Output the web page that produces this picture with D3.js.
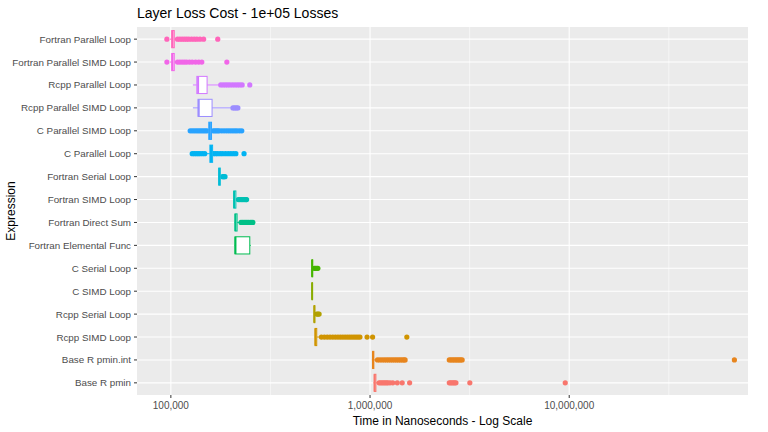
<!DOCTYPE html>
<html lang="en">
<head>
<meta charset="UTF-8">
<title>Layer Loss Cost</title>
<script src="https://cdn.jsdelivr.net/npm/d3@7"></script>
<style>
  body { margin:0; background:#fff; }
  text { font-family: "Liberation Sans", Arial, sans-serif; }
</style>
</head>
<body>
<div id="chart"></div>
<script>
    // top to bottom, as drawn
    const categories = ['Fortran Parallel Loop','Fortran Parallel SIMD Loop','Rcpp Parallel Loop','Rcpp Parallel SIMD Loop',
        'C Parallel SIMD Loop','C Parallel Loop','Fortran Serial Loop','Fortran SIMD Loop','Fortran Direct Sum',
        'Fortran Elemental Func','C Serial Loop','C SIMD Loop','Rcpp Serial Loop','Rcpp SIMD Loop','Base R pmin.int','Base R pmin'];
    const colours = ['#FF65BA','#F166E8','#D277FF','#9C8DFF','#29A3FF','#00B3F2','#00BCD6','#00C0B2','#00C087',
        '#00BC51','#45B500','#89AC00','#B2A100','#D09400','#E7851E','#F8766D'];
    // values in nanoseconds
    const q1        = [101000,101000,135000,137000,155000,157000,174000,207000,210000,210000,511000,511000,524000,530000,1030000,1050000];
    const median    = [102000,102000,137000,138000,157000,159000,175000,208000,211000,211000,512000,512000,525000,532000,1035000,1055000];
    const q3        = [104000,104000,152000,161000,160000,162000,177000,212000,215000,249000,515000,513000,528000,540000,1045000,1070000];
    const whiskerLo = [ 99000, 99000,129000,129000,150000,150000,173000,206000,209000,209000,510000,510000,522000,528000,1020000,1040000];
    const whiskerHi = [106000,106000,176000,210000,172000,170000,180000,215000,222000,252000,520000,514000,532000,560000,1070000,1100000];
    const outliers = [
        [95500,108000,111000,114000,117000,120000,123000,127000,131000,135000,140000,146000,172000],
        [95500,108000,111000,114000,117000,120000,124000,128000,133000,138000,143000,191000],
        [178000,183000,188000,193000,198000,204000,210000,216000,222000,228000,249000],
        [205000,209000,213000,217000],
        [125000,128000,131000,134000,137000,140000,143000,146000,149000,152000,163000,166000,169000,172000,
         175000,180000,185000,190000,195000,200000,205000,210000,215000,221000,227000],
        [128000,131000,134000,137000,140000,144000,148000,164000,168000,172000,177000,182000,188000,194000,200000,206000,212000,233000],
        [182000,184000,187000],
        [218000,222000,226000,230000,234000,238000,240000],
        [225000,229000,233000,237000,241000,245000,250000,254000,258000],
        [],
        [525000,532000,540000,547000],
        [],
        [540000,548000,555000],
        [570000,590000,610000,630000,650000,670000,690000,710000,730000,750000,770000,790000,810000,830000,850000,870000,890000,966000,1030000,1530000],
        [1090000,1120000,1150000,1180000,1210000,1240000,1270000,1300000,1330000,1360000,1390000,1420000,1450000,1480000,1500000,
         2500000,2550000,2600000,2650000,2700000,2750000,2800000,2850000,2900000,67500000],
        [1110000,1130000,1150000,1170000,1190000,1210000,1230000,1260000,1300000,1370000,1450000,1580000,
         2500000,2540000,2580000,2620000,2660000,2700000,3170000,9550000]
    ];
    const xTicks = [1e5, 1e6, 1e7];
    const xMinor = [Math.pow(10,5.5), Math.pow(10,6.5), Math.pow(10,7.5)];

    const W = 768, H = 432,
        m = {top:27, right:20, bottom:37, left:137};

    const svg = d3.select('#chart').append('svg').attr('width', W).attr('height', H);

    const x = d3.scaleLog().domain([67600, 79000000]).range([m.left, W - m.right]);
    const y = d3.scaleBand().domain(categories).range([m.top, H - m.bottom]).paddingInner(0).paddingOuter(0.03);
    const bw = y.bandwidth() * 0.75;

    svg.append('rect').attr('x', m.left).attr('y', m.top)
        .attr('width', W - m.right - m.left).attr('height', H - m.bottom - m.top).attr('fill', '#EBEBEB');

    const grid = svg.append('g');
    grid.selectAll('.minor').data(xMinor).enter().append('line')
        .attr('x1', d => x(d)).attr('x2', d => x(d)).attr('y1', m.top).attr('y2', H - m.bottom)
        .attr('stroke', '#fff').attr('stroke-width', 0.5);
    grid.selectAll('.major').data(xTicks).enter().append('line')
        .attr('x1', d => x(d)).attr('x2', d => x(d)).attr('y1', m.top).attr('y2', H - m.bottom)
        .attr('stroke', '#fff').attr('stroke-width', 1.1);
    grid.selectAll('.hy').data(categories).enter().append('line')
        .attr('x1', m.left).attr('x2', W - m.right)
        .attr('y1', d => y(d) + y.bandwidth()/2).attr('y2', d => y(d) + y.bandwidth()/2)
        .attr('stroke', '#fff').attr('stroke-width', 1.1);

    const rows = svg.append('g').selectAll('g').data(categories).enter().append('g')
        .attr('transform', d => 'translate(0,' + (y(d) + y.bandwidth()/2) + ')');

    rows.each(function(c, i){
        const g = d3.select(this), col = colours[i];
        g.selectAll('circle').data(outliers[i]).enter().append('circle')
            .attr('cx', v => x(v)).attr('cy', 0).attr('r', 2.6).attr('fill', col);
        g.append('line').attr('x1', x(whiskerLo[i])).attr('x2', x(q1[i])).attr('stroke', col).attr('stroke-width', 1);
        g.append('line').attr('x1', x(q3[i])).attr('x2', x(whiskerHi[i])).attr('stroke', col).attr('stroke-width', 1);
        g.append('rect').attr('x', x(q1[i])).attr('y', -bw/2)
            .attr('width', Math.max(0.5, x(q3[i]) - x(q1[i]))).attr('height', bw)
            .attr('fill', '#fff').attr('stroke', col).attr('stroke-width', 1);
        g.append('line').attr('x1', x(median[i])).attr('x2', x(median[i]))
            .attr('y1', -bw/2).attr('y2', bw/2).attr('stroke', col).attr('stroke-width', 2);
    });

    // axes
    const fmt = d3.format(',');
    const ax = svg.append('g');
    ax.selectAll('.xt').data(xTicks).enter().append('line')
        .attr('x1', d => x(d)).attr('x2', d => x(d)).attr('y1', H - m.bottom).attr('y2', H - m.bottom + 3)
        .attr('stroke', '#333');
    ax.selectAll('.xl').data(xTicks).enter().append('text')
        .attr('x', d => x(d)).attr('y', H - m.bottom + 14).attr('text-anchor', 'middle')
        .attr('font-size', 10).attr('fill', '#4D4D4D').text(d => fmt(d));
    ax.selectAll('.yt').data(categories).enter().append('line')
        .attr('x1', m.left - 3).attr('x2', m.left)
        .attr('y1', d => y(d) + y.bandwidth()/2).attr('y2', d => y(d) + y.bandwidth()/2).attr('stroke', '#333');
    ax.selectAll('.yl').data(categories).enter().append('text')
        .attr('x', m.left - 6).attr('y', d => y(d) + y.bandwidth()/2 + 3.5).attr('text-anchor', 'end')
        .attr('font-size', 9.8).attr('fill', '#4D4D4D').text(d => d);

    svg.append('text').attr('x', (m.left + W - m.right)/2).attr('y', H - 7).attr('text-anchor', 'middle')
        .attr('font-size', 12).attr('fill', '#000').text('Time in Nanoseconds - Log Scale');
    svg.append('text').attr('transform', 'translate(15,' + ((m.top + H - m.bottom)/2) + ') rotate(-90)')
        .attr('text-anchor', 'middle').attr('font-size', 12).attr('fill', '#000').text('Expression');
    svg.append('text').attr('x', m.left).attr('y', 18).attr('font-size', 14).attr('fill', '#000')
        .text('Layer Loss Cost - 1e+05 Losses');
</script>
</body>
</html>
